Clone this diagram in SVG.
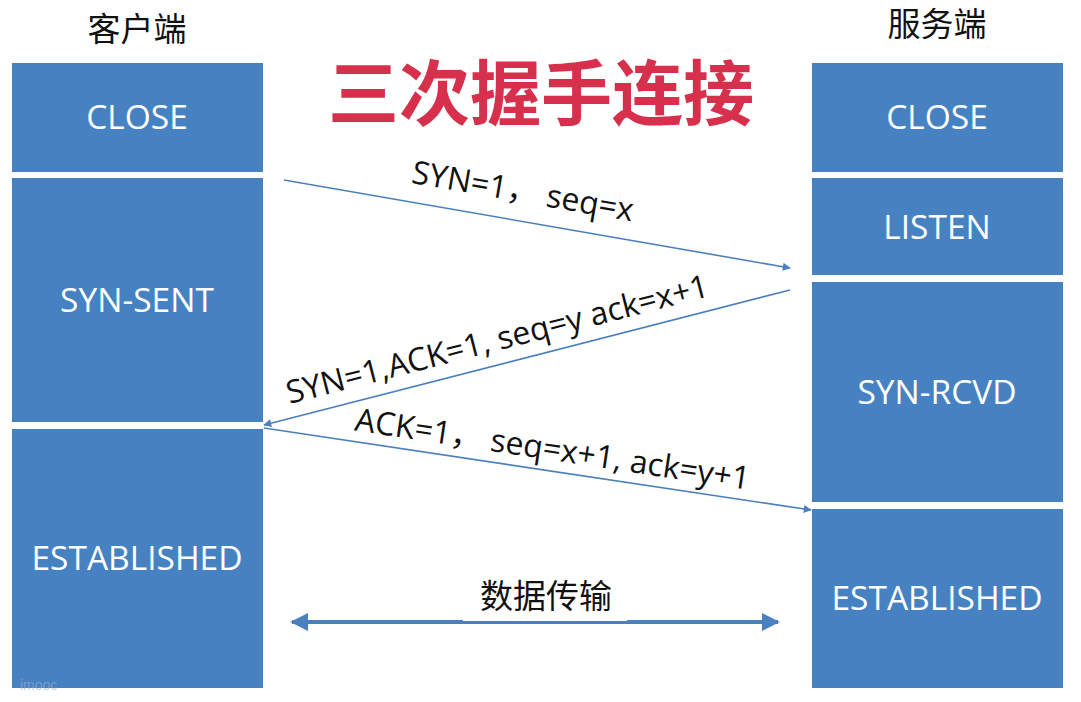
<svg xmlns="http://www.w3.org/2000/svg" width="1081" height="702" viewBox="0 0 1081 702">
<style>
.box{fill:#4682C1}
.st{fill:#fff;font-family:"Open Sans","Noto Sans",sans-serif;font-size:33.5px;text-anchor:middle}
.hd{fill:#111;font-family:"Noto Sans CJK SC",sans-serif;font-size:33px;text-anchor:middle}
.lb{fill:#111;font-family:"Open Sans","Noto Sans","Noto Sans CJK SC",sans-serif;font-size:32px;text-anchor:middle}
.ln{stroke:#4A80BE;stroke-width:1.6;fill:none}
</style>
<defs>
<marker id="ah" viewBox="0 0 10 10" refX="9" refY="5" markerWidth="10" markerHeight="8" markerUnits="userSpaceOnUse" orient="auto"><path d="M0,0L10,5L0,10z" fill="#4A80BE"/></marker>
<marker id="ah2" viewBox="0 0 10 10" refX="9" refY="5" markerWidth="4.5" markerHeight="4.5" orient="auto-start-reverse"><path d="M0,0L10,5L0,10z" fill="#4A80BE"/></marker>
</defs>
<rect width="1081" height="702" fill="#fff"/>
<text class="hd" x="137" y="41">客户端</text>
<text class="hd" x="937" y="36">服务端</text>
<text x="541" y="119" font-family="'Noto Sans CJK SC',sans-serif" font-size="71" font-weight="bold" fill="#D7304C" text-anchor="middle">三次握手连接</text>
<g id="c-close"><rect class="box" x="12" y="63" width="251" height="109"/><text class="st" x="137" y="129">CLOSE</text></g>
<g id="c-synsent"><rect class="box" x="12" y="178" width="251" height="244"/><text class="st" x="137" y="312">SYN-SENT</text></g>
<g id="c-est"><rect class="box" x="12" y="429" width="251" height="259"/><text class="st" x="137" y="570">ESTABLISHED</text><text x="20" y="690" font-family="'Liberation Sans',sans-serif" font-size="14" fill="#9aaed0" opacity="0.6">imooc</text></g>
<g id="s-close"><rect class="box" x="812" y="63" width="251" height="109"/><text class="st" x="937" y="129">CLOSE</text></g>
<g id="s-listen"><rect class="box" x="812" y="178" width="251" height="97"/><text class="st" x="937" y="239">LISTEN</text></g>
<g id="s-synrcvd"><rect class="box" x="812" y="282" width="251" height="220"/><text class="st" x="937" y="404">SYN-RCVD</text></g>
<g id="s-est"><rect class="box" x="812" y="509" width="251" height="179"/><text class="st" x="937" y="610">ESTABLISHED</text></g>
<g id="connectors">
<line class="ln" x1="284" y1="180" x2="790" y2="268" marker-end="url(#ah)"/>
<line class="ln" x1="790" y1="290" x2="264" y2="425" marker-end="url(#ah)"/>
<line class="ln" x1="264" y1="428" x2="811" y2="510" marker-end="url(#ah)"/>
<line x1="292" y1="622" x2="778" y2="622" stroke="#4A80BE" stroke-width="4" marker-start="url(#ah2)" marker-end="url(#ah2)"/>
<rect x="463" y="619" width="164" height="2" fill="#fff"/>
<text class="lb" transform="translate(521,202) rotate(9.9)">SYN=1， seq=x</text>
<text class="lb" transform="translate(500,350) rotate(-14.4)">SYN=1,ACK=1, seq=y ack=x+1</text>
<text class="lb" transform="translate(551,460) rotate(8.6)">ACK=1， seq=x+1, ack=y+1</text>
<text class="hd" x="546" y="608" font-size="35">数据传输</text>
</g>
</svg>
